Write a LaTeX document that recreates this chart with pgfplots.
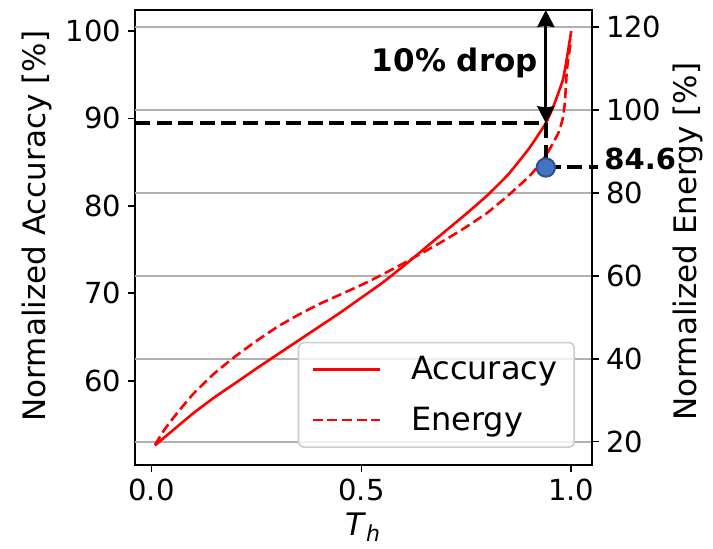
\documentclass[border=0pt]{standalone}
\usepackage{fontspec}
\setmainfont{DejaVu Sans}
\usepackage{pgfplots}
\usepackage{pgfplotstable}
\pgfplotsset{compat=1.18}
\usetikzlibrary{arrows.meta}
\definecolor{gridgray}{HTML}{B0B0B0}
\definecolor{leggray}{HTML}{CCCCCC}
\definecolor{dotblue}{HTML}{4472C4}
\definecolor{dotedge}{HTML}{2F528F}

\pgfplotstableread{
T acc
0.008 52.6
0.05 54.3
0.10 56.3
0.15 58.1
0.211 60.1
0.25 61.4
0.30 63.0
0.35 64.6
0.40 66.2
0.45 67.8
0.50 69.5
0.55 71.2
0.60 73.1
0.65 75.1
0.70 77.1
0.75 79.1
0.80 81.2
0.85 83.6
0.90 86.6
0.94 89.5
0.96 91.7
0.98 94.4
0.99 97.0
1.00 100.0
}\acctable

\pgfplotstableread{
T energy
0.008 19.2
0.03 22.8
0.06 26.8
0.10 31.6
0.15 36.5
0.20 40.6
0.25 44.3
0.30 47.7
0.35 50.6
0.40 53.2
0.45 55.5
0.50 57.8
0.55 60.3
0.60 63.0
0.65 65.8
0.70 68.7
0.75 71.8
0.80 75.2
0.85 79.4
0.90 84.0
0.93 87.6
0.95 90.8
0.97 94.6
0.98 98.0
0.985 102.0
0.99 110.0
1.00 117.0
}\energytable

\begin{document}
\begin{tikzpicture}
\useasboundingbox (-67.5bp,-42bp) rectangle (289bp,232.5bp);
\pgfplotsset{
  common/.style={
    scale only axis, width=228.5bp, height=227.5bp,
    xmin=-0.0395, xmax=1.0495,
    tick align=outside, major tick length=3.5bp,
    tick style={black, line width=0.8bp},
    axis line style={line width=0.8bp},
    tick label style={font=\fontsize{14.5bp}{17bp}\selectfont},
    label style={font=\fontsize{15.5bp}{18bp}\selectfont},
    /pgf/number format/assume math mode=true,
    clip=false,
  }
}
\begin{axis}[common,
  ymin=50.36, ymax=102.40,
  xtick pos=left, ytick pos=left,
  xtick={0,0.5,1},
  xticklabel style={/pgf/number format/.cd, fixed, fixed zerofill, precision=1},
  ytick={60,70,80,90,100},
  extra y ticks={53.023,62.510,71.997,81.483,90.971,100.458},
  extra y tick style={grid=major, major grid style={gridgray, line width=0.8bp}, major tick length=0pt, yticklabels={}},
  ylabel={Normalized Accuracy [\%]},
  ylabel style={at={(axis description cs:-0.2144,0.525)}, anchor=center},
  xlabel={\textit{T}\raisebox{-0.22em}{\fontsize{11bp}{13bp}\selectfont\textit{h}}},
  xlabel style={at={(axis description cs:0.4978,-0.1540)}, anchor=base, inner sep=0pt},
]
\addplot[red, line width=1.3bp, smooth, tension=0.3] table[x=T, y=acc] {\acctable};
\addplot[black, line width=2bp, dash pattern=on 7.5bp off 3.3bp] coordinates {(-0.0395,89.44) (0.9395,89.44)};
\addplot[black, line width=1.5bp, {Stealth[length=8.5bp,width=8.5bp,inset=0.6bp]}-{Stealth[length=8.5bp,width=8.5bp,inset=0.6bp]}] coordinates {(0.9395,102.40) (0.9395,89.44)};
\node[anchor=base, inner sep=0pt, font=\fontsize{15.5bp}{18bp}\selectfont\bfseries] at (axis cs:0.7227,95.34) {10\% drop};
\end{axis}

\begin{axis}[common,
  ymin=14.38, ymax=124.10,
  axis y line*=right, axis x line=none,
  ytick={20,40,60,80,100,120},
  ylabel={Normalized Energy [\%]},
  ylabel style={at={(axis description cs:1.2101,0.4908)}, anchor=center},
  legend cell align=left,
  legend image code/.code={\draw[#1] (0bp,0bp) -- (33.5bp,0bp);},
  legend style={at={(0.9628,0.0374)}, anchor=south east, draw=leggray, line width=0.8bp,
    fill=white, fill opacity=0.8, text opacity=1, rounded corners=2.5bp,
    font=\fontsize{16bp}{19bp}\selectfont, inner xsep=6.5bp, inner ysep=5bp, row sep=8bp,
    /tikz/every odd column/.append style={column sep=13bp}},
]
\addlegendimage{red, line width=1.3bp}
\addlegendentry{Accuracy}
\addplot[red, line width=1.3bp, dash pattern=on 5bp off 2.3bp, smooth, tension=0.3] table[x=T, y=energy] {\energytable};
\addlegendentry{Energy}
\addplot[black, line width=2bp, dash pattern=on 7.5bp off 3.3bp, forget plot] coordinates {(0.9395,96.78) (0.9395,86.12)};
\addplot[black, line width=2bp, dash pattern=on 7.5bp off 3.3bp, forget plot] coordinates {(0.9395,86.12) (1.0646,86.12)};
\addplot[only marks, mark=*, mark size=4.6bp, mark options={fill=dotblue, draw=dotedge, line width=1bp}, forget plot] coordinates {(0.9395,86.12)};
\node[anchor=base west, inner sep=0pt, font=\fontsize{14.5bp}{17bp}\selectfont\bfseries] at (axis cs:1.0782,85.52) {84.6};
\end{axis}
\end{tikzpicture}
\end{document}
